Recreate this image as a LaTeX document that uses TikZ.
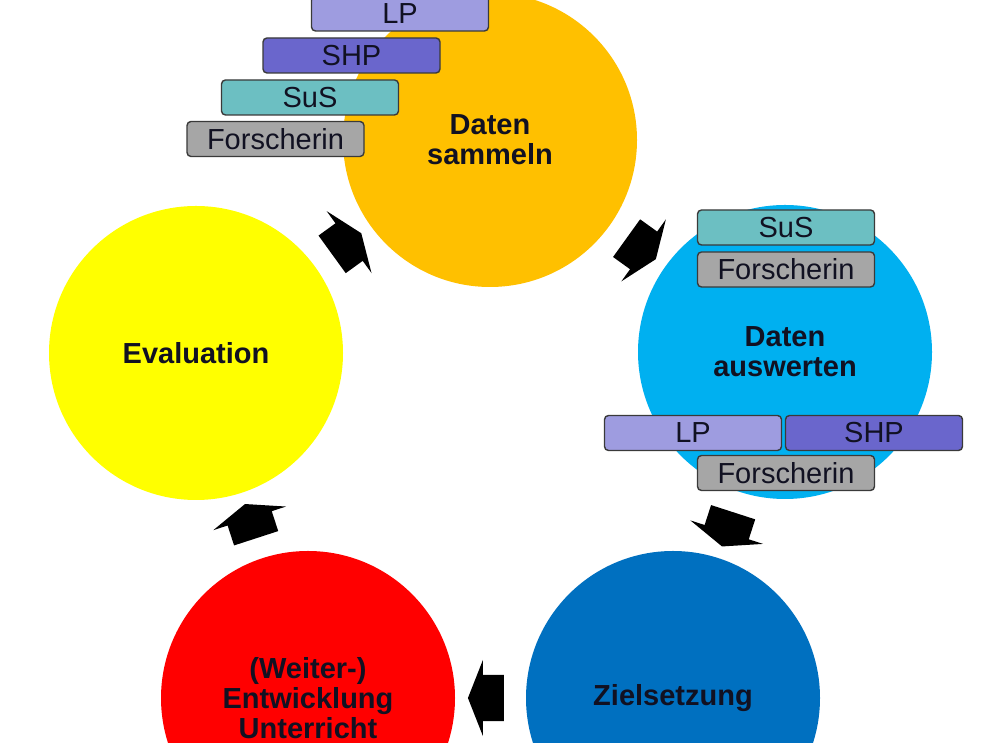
\documentclass[tikz,border=0pt]{standalone}
\usepackage{fontspec}
\setmainfont{Liberation Sans}
\usetikzlibrary{shapes.arrows}
\definecolor{corange}{HTML}{FFC000}
\definecolor{cyellow}{HTML}{FFFF00}
\definecolor{clight}{HTML}{00B0F0}
\definecolor{cdark}{HTML}{0070C0}
\definecolor{cred}{HTML}{FF0000}
\definecolor{cLP}{HTML}{9E9CE0}
\definecolor{cSHP}{HTML}{6A66CC}
\definecolor{cSuS}{HTML}{6CBFC2}
\definecolor{cFor}{HTML}{A6A6A6}
\definecolor{boxline}{HTML}{3A3A3A}
\definecolor{txt}{HTML}{111122}
\begin{document}
\begin{tikzpicture}[x=1pt,y=1pt,
 phase/.style={circle, minimum size=294pt, inner sep=0pt, align=center,
   font=\bfseries\fontsize{29}{30}\selectfont, text=txt},
 role/.style={rectangle, rounded corners=4pt, draw=boxline, line width=1.4pt,
   minimum width=177pt, minimum height=35pt, inner sep=0pt,
   font=\fontsize{29}{30}\selectfont, text=txt},
 blockarr/.style={single arrow, fill=black, inner xsep=0pt, inner ysep=23pt,
   minimum height=36pt, single arrow head extend=15pt, single arrow tip angle=137,
   allow upside down, sloped}
]
\clip (0,0) rectangle (991,743);
\fill[white] (0,0) rectangle (991,743);
% phases
\node[phase, fill=corange] (s) at (490,603) {Daten\\sammeln};
\node[phase, fill=clight]  (w) at (785,391) {Daten\\auswerten};
\node[phase, fill=cdark]   (z) at (673,45)  {Zielsetzung};
\node[phase, fill=cred]    (e) at (308,45)  {(Weiter-)\\Entwicklung\\Unterricht};
\node[phase, fill=cyellow] (v) at (196,390) {Evaluation};
% cycle arrows
\path (s) -- (w) node[midway, blockarr] (a1) {};
\path (w) -- (z) node[midway, blockarr] (a2) {};
\path (z) -- (e) node[midway, blockarr] (a3) {};
\path (e) -- (v) node[midway, blockarr] (a4) {};
\path (v) -- (s) node[midway, blockarr] (a5) {};
% roles: Daten sammeln
\node[role, fill=cLP]  (s1) at (400,729.5) {LP};
\node[role, fill=cSHP] (s2) at (351.5,687.5) {SHP};
\node[role, fill=cSuS] (s3) at (310,645.5) {SuS};
\node[role, fill=cFor] (s4) at (275.5,604) {Forscherin};
% roles: Daten auswerten
\node[role, fill=cSuS] (w1) at (786,515.5) {SuS};
\node[role, fill=cFor] (w2) at (786,473.5) {Forscherin};
\node[role, fill=cLP]  (w3) at (693,310) {LP};
\node[role, fill=cSHP] (w4) at (874,310) {SHP};
\node[role, fill=cFor] (w5) at (786,270) {Forscherin};
\end{tikzpicture}
\end{document}
